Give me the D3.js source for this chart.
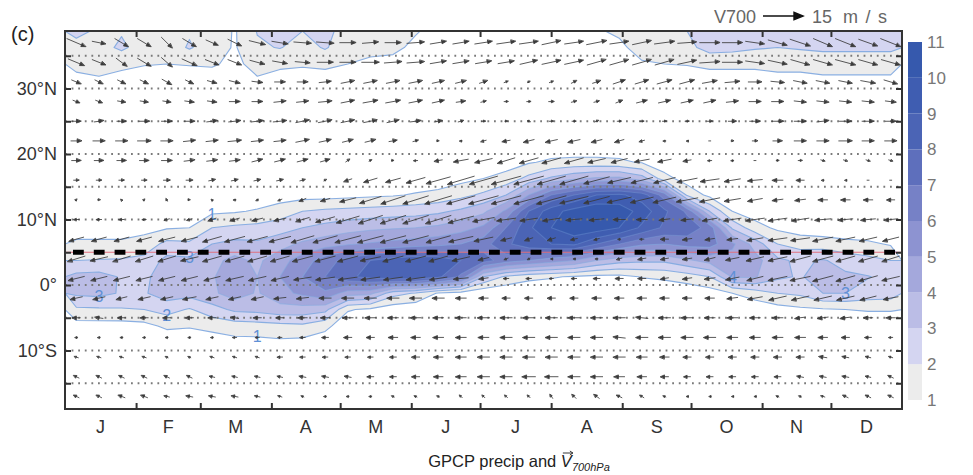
<!DOCTYPE html>
<html>
<head>
<meta charset="utf-8">
<script src="https://cdn.jsdelivr.net/npm/d3@7"></script>
<style>
  html, body { margin: 0; padding: 0; background: #fff; }
  svg { display: block; font-family: "Liberation Sans", Arial, Helvetica, sans-serif; }
</style>
</head>
<body>
<svg id="chart" width="973" height="475"></svg>
<script>
// ---- calendar ----
const monthLabels = ["J", "F", "M", "A", "M", "J", "J", "A", "S", "O", "N", "D"];
const monthStarts = [0, 31, 59, 90, 120, 151, 181, 212, 243, 273, 304, 334, 365];

// ---- precipitation (mm/day), one latitude profile per ~10-day period ----
const precipLats = [38.75, 36.25, 33.75, 31.25, 28.75, 26.25, 23.75, 21.25, 18.75, 16.25, 13.75, 11.25,
                    8.75, 6.25, 3.75, 1.25, -1.25, -3.75, -6.25, -8.75, -11.25, -13.75, -16.25, -18.75];
const precipByPeriod = [
  [2.15,1.8,1.2,0.8,0.3, 0,0,0,0,0,0, 0.2,0.5,1.2,2.0,3.3,3.2,1.8,0.6,0.2, 0,0,0,0],
  [1.9,1.6,1.3,0.9,0.3, 0,0,0,0,0,0, 0.2,0.5,1.2,2.05,3.4,3.3,1.85,0.6,0.2, 0,0,0,0],
  [1.9,2.2,1.2,0.7,0.2, 0,0,0,0,0,0, 0.2,0.5,1.2,2.1,2.9,2.9,1.9,0.6,0.2, 0,0,0,0],
  [1.8,1.5,1.05,0.6,0.2, 0,0,0,0,0,0, 0.3,0.7,1.4,2.3,2.8,2.9,2.0,0.7,0.2, 0,0,0,0],
  [1.8,1.5,1.0,0.6,0.2, 0,0,0,0,0,0.1, 0.4,0.9,2.3,3.3,3.5,3.5,2.4,1.2,0.3, 0,0,0,0],
  [1.9,2.1,1.05,0.6,0.2, 0,0,0,0,0,0.2, 0.5,1.0,2.2,3.2,3.6,3.4,1.9,1.1,0.3, 0,0,0,0],
  [1.7,1.5,1.1,0.6,0.2, 0,0,0,0,0,0.3, 0.8,2.0,3.0,3.7,3.9,3.8,2.6,1.3,0.5, 0.1,0,0,0],
  [0.9,0.9,0.8,0.4,0.1, 0,0,0,0,0,0.3, 0.9,2.2,3.3,4.3,4.6,4.5,3.2,1.5,0.7, 0.1,0,0,0],
  [2.05,1.85,1.3,0.9,0.3, 0,0,0,0,0.1,0.4, 1.1,2.3,3.2,3.8,4.0,3.9,3.3,1.6,0.7, 0.1,0,0,0],
  [2.2,2.05,1.2,0.6,0.2, 0,0,0,0,0.2,0.6, 1.4,2.6,3.6,4.6,5.0,4.7,3.6,1.7,0.8, 0.1,0,0,0],
  [2.0,1.6,1.1,0.6,0.2, 0,0,0,0,0.1,0.6, 2.0,3.0,4.2,5.5,6.0,5.2,3.6,1.8,0.7, 0.1,0,0,0],
  [2.2,2.1,1.2,0.6,0.2, 0,0,0,0,0.1,0.6, 2.2,3.3,4.6,6.5,7.0,5.8,3.3,1.3,0.4, 0,0,0,0],
  [1.7,1.4,1.0,0.5,0.1, 0,0,0,0,0.2,0.7, 2.3,3.6,4.9,7.4,7.8,4.5,1.1,0.3,0.1, 0,0,0,0],
  [1.5,1.2,0.85,0.4,0.1, 0,0,0,0,0.2,0.8, 2.4,3.8,5.1,8.0,8.3,4.3,0.8,0.2,0, 0,0,0,0],
  [1.4,1.15,0.8,0.4,0.1, 0,0,0,0,0.2,0.9, 2.5,3.9,5.3,8.5,8.7,2.4,0.4,0.1,0, 0,0,0,0],
  [1.05,0.85,0.5,0.2,0, 0,0,0,0,0.3,1.1, 2.6,4.0,5.5,8.8,8.8,1.9,0.3,0,0, 0,0,0,0],
  [0.8,0.5,0.3,0.1,0, 0,0,0,0,0.4,1.3, 2.8,4.2,5.7,8.6,8.2,0.9,0.2,0,0, 0,0,0,0],
  [0.7,0.4,0.2,0.1,0, 0,0,0,0.1,0.7,1.7, 3.2,4.6,6.0,8.0,6.8,0.6,0.1,0,0, 0,0,0,0],
  [0.6,0.4,0.2,0.1,0, 0,0,0,0.2,1.0,2.2, 3.8,5.2,6.6,7.4,3.0,0.2,0,0,0, 0,0,0,0],
  [0.6,0.4,0.2,0.1,0, 0,0,0.1,0.5,1.4,3.0, 5.2,7.0,7.8,6.5,1.8,0.2,0,0,0, 0,0,0,0],
  [0.7,0.5,0.2,0.1,0, 0,0,0.2,0.9,2.3,5.0, 8.0,8.8,8.6,6.0,1.3,0.1,0,0,0, 0,0,0,0],
  [0.7,0.5,0.3,0.1,0, 0,0,0.3,1.2,3.2,7.0, 9.6,10.0,9.0,5.5,1.1,0.1,0,0,0, 0,0,0,0],
  [0.8,0.5,0.3,0.1,0, 0,0,0.3,1.3,3.8,8.0, 10.4,10.8,9.2,5.0,0.9,0.1,0,0,0, 0,0,0,0],
  [0.9,0.6,0.3,0.1,0, 0,0,0.3,1.3,4.2,9.0, 10.8,10.6,8.0,4.0,0.7,0.1,0,0,0, 0,0,0,0],
  [1.15,0.8,0.4,0.1,0, 0,0,0.3,1.2,4.3,9.2, 10.6,10.0,7.0,3.4,0.7,0.1,0,0,0, 0,0,0,0],
  [1.6,1.35,0.9,0.4,0.1, 0,0,0.2,0.9,3.5,8.5, 9.6,8.8,6.2,3.2,1.05,0.1,0,0,0, 0,0,0,0],
  [1.8,1.6,1.0,0.5,0.1, 0,0,0,0.3,1.4,6.5, 8.2,7.8,6.0,3.2,1.2,0.2,0,0,0, 0,0,0,0],
  [2.0,1.7,1.05,0.5,0.1, 0,0,0,0.1,0.5,1.8, 6.8,7.6,6.4,3.8,1.5,0.3,0,0,0, 0,0,0,0],
  [2.5,2.4,1.2,0.6,0.2, 0,0,0,0,0.2,0.7, 3.0,6.6,6.4,4.4,2.0,0.5,0.1,0,0, 0,0,0,0],
  [2.5,2.3,1.2,0.6,0.2, 0,0,0,0,0.1,0.3, 1.0,2.8,5.2,4.6,4.1,1.0,0.2,0,0, 0,0,0,0],
  [2.3,2.1,1.2,0.6,0.2, 0,0,0,0,0,0.1, 0.5,1.4,3.6,4.4,4.1,1.5,0.3,0,0, 0,0,0,0],
  [2.3,2.0,1.3,0.7,0.2, 0,0,0,0,0,0.1, 0.3,0.8,2.0,3.2,3.2,2.0,0.6,0.1,0, 0,0,0,0],
  [2.3,2.1,1.3,0.7,0.2, 0,0,0,0,0,0, 0.2,0.5,1.6,2.8,2.9,2.2,0.8,0.1,0, 0,0,0,0],
  [2.4,2.2,1.4,0.8,0.2, 0,0,0,0,0,0, 0.1,0.4,1.5,3.1,3.5,3.0,0.9,0.2,0, 0,0,0,0],
  [2.4,2.2,1.4,0.8,0.2, 0,0,0,0,0,0, 0.1,0.3,1.3,2.6,3.2,3.0,1.0,0.2,0, 0,0,0,0],
  [2.4,2.2,1.4,0.8,0.2, 0,0,0,0,0,0, 0.1,0.2,1.2,2.3,3.05,2.6,1.1,0.2,0, 0,0,0,0],
  [2.4,2.2,1.4,0.8,0.2, 0,0,0,0,0,0, 0,0.2,0.9,2.0,2.7,2.5,1.1,0.2,0, 0,0,0,0]
];

// ---- 700 hPa wind (m/s), one row per latitude, one value per ~10-day period ----
const windLats = [37, 34, 31, 28, 25, 22, 19, 16, 13, 10, 7, 4, 1, -2, -5, -8, -11, -14, -17];
const windU = [
  [7,5,5,5,4,5,4.5,5,6,6,6.5,6.5,6,6,6,6.5,6,6,6.5,7,7,7,7,7.5,7,7,7.5,7,7.5,7.5,7,7,7.5,7,7.5,7,7.5],
  [6,5,4,5,4,5.5,5,5,5.5,5.5,5.5,6,6,6.5,6.5,6.5,6,6,6,6,6.5,7,7,7,7,7,7,7,7.5,7.5,7,7,7,7,7.5,7,7],
  [3.5,3,3,3,3.5,3,3.5,4,4,4,4,4.5,5,5,5,5,4.5,4,3,1.5,1,1.5,2,3,4.5,5,5.5,5.5,5.5,5.5,5,5,5,5,5,5.5,5],
  [2.5,2.5,3,3,3,3.5,3.5,4,4,4.5,4.5,5,5,5.5,5.5,5,4.5,3.5,2,1.5,1.5,2,2,2,2.5,4,4.5,4.5,4.5,4.5,4.5,4.5,4.5,4.5,4.5,4.5,4],
  [3.5,3.5,3.5,4,4,4,4,4.5,4.5,5,5,5,5,5,4.5,4,3,2,1.5,1,1,1.5,1.5,1.5,1.5,1.5,1.5,1.5,2,3,4,4.5,4.5,4.5,4.5,4.5,4],
  [4,4.5,4.5,5,4.5,4.5,4.5,5,4.5,4.5,5,4.5,4,4,3,2,0.5,-1,-2,-3,-4,-4.5,-4.5,-4,-3.5,-2,-1,-0.5,0,1,2,3.5,4.5,4.5,5,4.5,4.5],
  [3.5,3.5,3.5,3.5,4,4,4,4,4,4,4,3.5,1.5,1,0.5,-1.5,-3,-5.5,-6.5,-6.5,-7,-7,-7,-6.5,-6,-5.5,-5,-3,-1.5,-1,0,1,1.5,1.5,1.5,1.5,1.5],
  [2,2,2,2,2.5,2.5,2.5,2.5,2.5,2.5,2,1,-3,-5,-5.5,-7,-9,-10,-10.5,-11,-11,-10.5,-10.5,-9.5,-8.5,-8,-8,-7.5,-7,-6,-5.5,-4,-3,-1,-0.5,0,0],
  [0.5,1,-0.5,0.5,-0.5,0.5,-0.5,-1,-1,-1.5,-2.5,-3.5,-6,-8,-9,-9.5,-10,-10.5,-11,-11,-11,-11,-10.5,-9.5,-9,-8.5,-8.5,-8,-7.5,-6,-5.5,-4,-4,-3.5,-3.5,-3.5,-3],
  [-2,-2,-2,-1.5,-2,-2,-3,-3.5,-4,-4.5,-5,-7,-8.5,-9,-9.5,-9.5,-9.5,-9.5,-8,-7,-6.5,-6.5,-6,-5.5,-4.5,-4,-4,-4.5,-5.5,-6.5,-7,-7,-6.5,-6,-5.5,-5.5,-5],
  [-5.5,-5.5,-5.5,-5.5,-6,-6,-7,-7.5,-7.5,-8,-8.5,-9,-9.5,-9.5,-9.5,-9.5,-9,-9,-7,-4,-3,-3,-2.5,-2,-1,-1.5,-3,-3.5,-3.5,-4,-6,-7,-7,-7.5,-7,-6.5,-6],
  [-6.5,-6.5,-6.5,-6.5,-6.5,-6.5,-7,-7,-7,-7,-7.5,-7.5,-7.5,-7.5,-7.5,-7.5,-7,-6.5,-4,-1.5,-1,-0.5,-0.5,-1,-2,-3,-3,-3.5,-4,-5,-6.5,-7,-7.5,-7.5,-7,-7,-6.5],
  [-6,-6,-6,-6,-6,-6,-6,-6.5,-6.5,-6.5,-6.5,-7,-7,-7,-7,-7,-6.5,-5.5,-3.5,-2,-2,-1.5,-2,-2.5,-3,-3,-3,-3.5,-4,-5,-6,-7,-7.5,-7.5,-7,-7,-6.5],
  [-4.5,-4.5,-4,-4.5,-4.5,-5,-4.5,-4.5,-4.5,-4.5,-4.5,-4.5,-4.5,-4.5,-4.5,-4.5,-4.5,-4,-3.5,-3,-3,-3,-3,-3.5,-3.5,-3.5,-3.5,-3.5,-3.5,-4,-5.5,-6.5,-6.5,-6.5,-6.5,-6,-5.5],
  [-3,-3,-3,-3,-3,-3,-3,-3,-3,-3,-3.5,-3.5,-4,-4,-4,-4,-4,-4,-4.5,-4.5,-4.5,-4.5,-4.5,-4.5,-4.5,-4.5,-4.5,-4.5,-4,-4,-4,-4,-4,-4,-4,-3.5,-3.5],
  [-1,-1,-1,-1,-1,-1,-1,-1.5,-1.5,-1.5,-2,-2.5,-3,-3,-3.5,-3.5,-4,-4,-4,-4.5,-4.5,-4.5,-4.5,-4.5,-4.5,-4.5,-4.5,-4.5,-4.5,-4,-4,-4,-4,-3.5,-3,-2.5,-1.5],
  [-1.5,-1.5,-1.5,-1.5,-1,-1,-1.5,-1.5,-1.5,-2,-2,-2,-2,-2,-2.5,-3,-3.5,-4,-4.5,-4.5,-4.5,-4.5,-4.5,-4.5,-4.5,-4,-3.5,-3,-3,-3,-3,-3,-3,-3,-2.5,-2,-1.5],
  [-2,-2,-2,-2,-2,-2,-2,-2,-2,-2,-2.5,-2.5,-2.5,-2.5,-2.5,-3,-3.5,-4,-4.5,-4.5,-5,-5,-4.5,-4.5,-4,-3.5,-3,-2.5,-2.5,-2.5,-2.5,-2.5,-2.5,-2.5,-2.5,-2,-2],
  [-2,-2,-2.5,-2.5,-2,-2.5,-2.5,-2.5,-2,-1.5,-1,-1,-1,-1,-1,-1,-1,-1,-1,-1,-1,-1,-1.5,-2,-2,-1.5,-1,-0.5,-0.5,-0.5,-0.5,-1,-1,-1.5,-2,-2,-2]
];
const windV = [
  [-3,-1,-3,-3,-4,-3,-2,-2.5,-1.5,-1,-0.5,-0.5,0,0.5,0,0.5,1,1,1,1,1,1.5,1,1.5,1,1.5,1,0.5,0,0,-1,-2,-2.5,-3,-3,-2.5,-3],
  [-2.5,-2,-3,-3,-3.5,-2.5,-2,-2,-1.5,-1,-0.5,0,0,0,0.5,0.5,1,1,1,1,1.5,1.5,1.5,2,2,2,2,1.5,0.5,0,-1,-1.5,-2,-2,-2,-2,-2],
  [-1.5,-1.5,-1.5,-1.5,-2,-1.5,-1,-1,-0.5,0,0,0.5,1,1,1,1,1,1,1,0.5,0.5,0.5,1,1,1.5,1.5,1.5,1.5,1,0.5,0,-0.5,-1,-1,-1,-1,-1.5],
  [-1,-1,-0.5,-0.5,-0.5,-0.5,-0.5,0,0,0.5,0.5,0.5,1,1,1,1,1,0.5,0.5,0,0,0,0.5,0.5,1,1,1,1,1,0.5,0,0,-0.5,-0.5,-0.5,-0.5,-0.5],
  [0,0.5,0,0,0,0,0.5,0.5,0.5,0.5,1,1,1,1,1,0.5,0.5,0.5,0,0,-0.5,0,0,0.5,0,0,0,0,0,0,0,0,0,0.5,0,0,0],
  [0,0,0,0,0,0.5,0.5,0.5,0.5,0.5,1,1,1,1,0.5,0.5,0,0,-0.5,-0.5,-1,-1,-1,-1,-1,-0.5,0,0,0,0,0,0,0,0,0,0,0],
  [0,0,0,0,0,0.5,0.5,0.5,1,1,1,1,1,0.5,0,0,-0.5,-1,-1.5,-2,-2,-2,-2,-1.5,-1.5,-1,-1,-0.5,0,0,0,0,0,-0.5,-0.5,-0.5,-0.5],
  [0,0,0,0,0,0,0.5,0.5,0.5,0.5,0.5,0.5,-1,-1.5,-1.5,-2,-2.5,-3,-3,-3,-3,-3,-3,-2.5,-2,-2,-2,-1.5,-1,-1,-0.5,0,0,0,0,0,0],
  [0.5,0,0.5,0.5,1,0,0.5,0,-0.5,-0.5,-1,-1,-1.5,-2.5,-3,-3,-3,-3,-3,-3,-3,-3,-2.5,-2.5,-2,-2,-2,-1.5,-1.5,-1,-1,-0.5,-0.5,0,0,0,0],
  [0,0,0,0,-0.5,-0.5,-1,-1,-1,-1,-1.5,-2,-2.5,-3,-3,-3,-3,-2.5,-1.5,-1,-1,-1,-0.5,-0.5,0,0,-0.5,-0.5,-1,-1,-1,-1,-1,-0.5,-0.5,-0.5,-0.5],
  [-1.5,-1.5,-1.5,-1.5,-1.5,-1.5,-2,-2,-2,-2,-2.5,-2.5,-2.5,-2.5,-2.5,-2.5,-2.5,-2,-1.5,-1,-1,-1,-0.5,-0.5,0,0,0,-0.5,-0.5,-0.5,-1,-1,-1,-1.5,-1.5,-1.5,-1.5],
  [-2,-1.5,-2,-2,-2,-1.5,-2,-2,-2,-2,-2,-2,-2,-1.5,-2,-2,-2,-1.5,-1,-0.5,-0.5,0,0,0,-0.5,-0.5,-0.5,-0.5,-1,-1,-1.5,-1.5,-2,-2,-2,-2,-2],
  [-1.5,-1.5,-1.5,-1.5,-1.5,-1.5,-1.5,-1.5,-1.5,-1.5,-1,-1,-1,-1,-1,-1,-1,-0.5,-0.5,0,0,0,0,0,0,0,-0.5,-0.5,-0.5,-1,-1.5,-1.5,-1.5,-2,-2,-2,-1.5],
  [-1,-1,-1,-1,-1,-1,-1,-1,-1,-0.5,-0.5,0,0,0,0,0,0,0,0,0,0,0,0,0,0,0,0,0,0,-0.5,-1,-1.5,-1.5,-1.5,-1.5,-1.5,-1],
  [0,0.5,0,0,0,0,0,0.5,0,0,0,0,0,0,0,0,0,0,0,0,0,0,0,0,0,0.5,0,0,0,0,0,0,-0.5,-0.5,-0.5,0,0],
  [0,0,0,0,0,0,0,0,0,0,0,0,0,0,0,0,0,0,0,0,0,0,0,0,0.5,0,0,0,0,0,0,0,0,0,0,0,0],
  [0.5,0.5,0.5,0.5,0.5,0.5,0.5,0.5,0.5,0,0,0,0,0,0,0,0,0,0,0,0,0,0,0,0,0,0,0,0,0,0,0,0,0.5,0.5,0.5,0.5],
  [1,1,1,1,1,1,0.5,0.5,0.5,0.5,0.5,0.5,0.5,0,0,0,0,0,0,0,0,0,0,0,0,0,0,0,0,0,0,0,0.5,0.5,0.5,0.5,1],
  [1,1,1,1,0.5,0.5,0.5,0.5,0.5,0.5,0.5,0,0,0,0.5,0.5,0.5,1,1,1,1,1.5,1.5,1.5,1,1,0.5,0,0,0,0,0.5,0.5,0.5,1,1,1]
];
const referenceSpeed = 15;

// ---- contour levels and colour ramp ----
const levels = [1, 2, 3, 4, 5, 6, 7, 8, 9, 10, 11];
const levelColors = ["#ececec", "#d4d5f1", "#bbbde6", "#a4a8dc", "#8d93d1", "#7681c6", "#5e6fbc",
                     "#4b64b5", "#3f5db1", "#3659ad", "#3056aa"];

// contour values written on the lines: level, period index, side of the rain band
const contourLabels = [
  { level: 3, period: 1, side: "south" },
  { level: 2, period: 4, side: "south" },
  { level: 3, period: 5, side: "north" },
  { level: 1, period: 8, side: "south" },
  { level: 1, period: 6, side: "north" },
  { level: 4, period: 29, side: "south" },
  { level: 3, period: 32, side: "north" },
  { level: 3, period: 34, side: "south" }
];

// ---- latitude axis ----
const latTicks = [35, 30, 25, 20, 15, 10, 5, 0, -5, -10, -15];
const latLabelled = [30, 20, 10, 0, -10];
const itczLat = 5;

const svg = d3.select("#chart");
const plot = { left: 65, right: 902, top: 31, bottom: 409 };

const x = d3.scaleLinear().domain([0, 365]).range([plot.left, plot.right]);
const y = d3.scaleLinear().domain([-18.93, 38.78]).range([plot.bottom, plot.top]);

svg.append("defs").append("clipPath").attr("id", "plotClip")
  .append("rect")
  .attr("x", plot.left).attr("y", plot.top)
  .attr("width", plot.right - plot.left).attr("height", plot.bottom - plot.top);

const body = svg.append("g").attr("clip-path", "url(#plotClip)");

// ---- filled precipitation contours ----
const nx = precipByPeriod.length;
const ny = precipLats.length;
const daysPerCell = 365 / nx;
const latStep = precipLats[0] - precipLats[1];
const latEdge = precipLats[0] + latStep / 2;
const grid = new Array(nx * ny);
for (let j = 0; j < ny; j++) {
  for (let i = 0; i < nx; i++) grid[j * nx + i] = precipByPeriod[i][j];
}
const bands = d3.contours().size([nx, ny]).thresholds(levels)(grid);
const toScreen = d3.geoTransform({
  point(px, py) { this.stream.point(x(px * daysPerCell), y(latEdge - py * latStep)); }
});
const contourPath = d3.geoPath(toScreen);

body.append("g").selectAll("path")
  .data(bands)
  .join("path")
  .attr("d", contourPath)
  .attr("fill", (d, i) => levelColors[i])
  .attr("stroke", "none");

body.append("g").selectAll("path")
  .data(bands)
  .join("path")
  .attr("d", contourPath)
  .attr("fill", "none")
  .attr("stroke", "#84abe0")
  .attr("stroke-opacity", d => d.value <= 3 ? 0.95 : (d.value <= 6 ? 0.55 : 0.3))
  .attr("stroke-width", 1.1)
  .attr("stroke-linejoin", "round");

// contour value labels placed where a period's profile crosses the level
function crossingLat(period, level, side) {
  const prof = precipByPeriod[period];
  let iMax = 7;
  for (let j = 7; j < 20; j++) if (prof[j] > prof[iMax]) iMax = j;
  const step = side === "north" ? -1 : 1;
  for (let j = iMax; j + step >= 0 && j + step < prof.length; j += step) {
    const a = prof[j], b = prof[j + step];
    if (a >= level && b < level) {
      const t = (a - level) / (a - b);
      return precipLats[j] + t * (precipLats[j + step] - precipLats[j]);
    }
  }
  return null;
}
body.append("g").selectAll("text")
  .data(contourLabels.map(d => ({ ...d, lat: crossingLat(d.period, d.level, d.side) }))
    .filter(d => d.lat !== null))
  .join("text")
  .attr("x", d => x((d.period + 0.5) * daysPerCell))
  .attr("y", d => y(d.lat) + 5.5)
  .attr("text-anchor", "middle")
  .attr("font-size", 16)
  .attr("fill", "#5f90d6")
  .text(d => d.level);

// ---- dotted latitude lines ----
body.append("g").selectAll("line")
  .data(latTicks.filter(d => d !== itczLat))
  .join("line")
  .attr("x1", plot.left).attr("x2", plot.right)
  .attr("y1", d => y(d)).attr("y2", d => y(d))
  .attr("stroke", "#7a7a7a")
  .attr("stroke-width", 1.8)
  .attr("stroke-dasharray", "1.8 4.8");

// ---- wind vectors ----
const pxPerMs = 40 / referenceSpeed;
function arrowD(cx, cy, u, v, headLen, headHalf) {
  const dx = u * pxPerMs, dy = -v * pxPerMs;
  const len = Math.hypot(dx, dy);
  if (len < 0.5) {
    return `M${cx - 1},${cy}L${cx + 1},${cy}`;
  }
  const ux = dx / len, uy = dy / len;
  const x0 = cx - dx / 2, y0 = cy - dy / 2;
  const x1 = cx + dx / 2, y1 = cy + dy / 2;
  const hl = Math.max(2, Math.min(headLen, len * 0.5));
  const hw = Math.min(headHalf, hl * 0.45);
  const bx = x1 - ux * hl, by = y1 - uy * hl;
  return `M${x0},${y0}L${bx},${by}` +
         `M${x1},${y1}L${bx - uy * hw},${by + ux * hw}L${bx + uy * hw},${by - ux * hw}Z`;
}

const vectors = [];
windLats.forEach((lat, r) => {
  windU[r].forEach((u, c) => {
    const v = windV[r][c];
    if (u === undefined || v === undefined) return;
    vectors.push({ day: (c + 0.5) * daysPerCell, lat, u, v });
  });
});

body.append("g").selectAll("path")
  .data(vectors)
  .join("path")
  .attr("d", d => arrowD(x(d.day), y(d.lat), d.u, d.v, 4.5, 1.8))
  .attr("fill", "#3a3a3a")
  .attr("stroke", "#3a3a3a")
  .attr("stroke-width", 0.85)
  .attr("stroke-linecap", "round");

// ---- ITCZ reference latitude ----
body.append("line")
  .attr("x1", plot.left).attr("x2", plot.right)
  .attr("y1", y(itczLat)).attr("y2", y(itczLat))
  .attr("stroke", "#e0707e").attr("stroke-width", 1);
body.append("line")
  .attr("x1", plot.left).attr("x2", plot.right)
  .attr("y1", y(itczLat)).attr("y2", y(itczLat))
  .attr("stroke", "#000").attr("stroke-width", 5)
  .attr("stroke-dasharray", "10.8 10")
  .attr("stroke-dashoffset", 12.8);

// ---- axes ----
const latFmt = d => d === 0 ? "0°" : (d > 0 ? `${d}°N` : `${-d}°S`);
const axisStyle = g => {
  g.select(".domain").remove();
  g.selectAll(".tick line").attr("stroke", "#333").attr("stroke-width", 2);
  g.selectAll(".tick text").attr("fill", "#333").attr("font-size", 18)
    .attr("font-family", "\"Liberation Sans\", Arial, sans-serif");
};

svg.append("g")
  .attr("transform", `translate(${plot.left},0)`)
  .call(d3.axisLeft(y).tickValues(latTicks).tickSize(-6).tickPadding(8)
    .tickFormat(d => latLabelled.includes(d) ? latFmt(d) : ""))
  .call(axisStyle);

svg.append("g")
  .attr("transform", `translate(${plot.right},0)`)
  .call(d3.axisRight(y).tickValues(latTicks).tickSize(-6).tickFormat(""))
  .call(axisStyle);

svg.append("g")
  .attr("transform", `translate(0,${plot.bottom})`)
  .call(d3.axisBottom(x).tickValues(monthStarts.slice(1, 12)).tickSize(-6).tickFormat(""))
  .call(axisStyle);

svg.append("g")
  .attr("transform", `translate(0,${plot.top})`)
  .call(d3.axisTop(x).tickValues(monthStarts.slice(1, 12)).tickSize(-6).tickFormat(""))
  .call(axisStyle);

svg.append("g").selectAll("text")
  .data(monthLabels)
  .join("text")
  .attr("x", (d, i) => x((monthStarts[i] + monthStarts[i + 1]) / 2))
  .attr("y", 433)
  .attr("text-anchor", "middle")
  .attr("font-size", 18)
  .attr("fill", "#333")
  .text(d => d);

// frame
svg.append("rect")
  .attr("x", plot.left).attr("y", plot.top)
  .attr("width", plot.right - plot.left).attr("height", plot.bottom - plot.top)
  .attr("fill", "none").attr("stroke", "#333").attr("stroke-width", 2);

// ---- colour bar ----
const cbar = d3.scaleLinear().domain([1, 11]).range([400, 42]);
svg.append("g").selectAll("rect")
  .data(levels.slice(0, -1))
  .join("rect")
  .attr("x", 908).attr("width", 14)
  .attr("y", d => cbar(d + 1))
  .attr("height", d => cbar(d) - cbar(d + 1))
  .attr("fill", (d, i) => levelColors[i]);

svg.append("g")
  .attr("transform", "translate(922,0)")
  .call(d3.axisRight(cbar).tickValues(levels).tickSize(0).tickPadding(5).tickFormat(d3.format("d")))
  .call(g => {
    g.select(".domain").remove();
    g.selectAll("text").attr("fill", "#777").attr("font-size", 17)
      .attr("font-family", "\"Liberation Sans\", Arial, sans-serif");
  });

// ---- panel letter ----
svg.append("text")
  .attr("x", 11).attr("y", 41)
  .attr("font-size", 20).attr("fill", "#222")
  .text("(c)");

// ---- reference vector key ----
const keyY = 16, keyX0 = 763;
svg.append("text")
  .attr("x", 756).attr("y", keyY + 6.5)
  .attr("text-anchor", "end")
  .attr("font-size", 18).attr("fill", "#666")
  .text("V700");
svg.append("path")
  .attr("d", arrowD(keyX0 + referenceSpeed * pxPerMs / 2, keyY, referenceSpeed, 0, 9, 3.6))
  .attr("fill", "#111").attr("stroke", "#111").attr("stroke-width", 1.4);
svg.append("text")
  .attr("x", 812).attr("y", keyY + 6.5)
  .attr("font-size", 18).attr("fill", "#666")
  .text(`${referenceSpeed}`);
svg.append("text")
  .attr("x", 843).attr("y", keyY + 6.5)
  .attr("font-size", 18).attr("fill", "#666")
  .attr("textLength", 44).attr("lengthAdjust", "spacing")
  .text("m/s");

// ---- caption ----
const cap = svg.append("text")
  .attr("x", 519).attr("y", 467)
  .attr("text-anchor", "middle")
  .attr("font-size", 16.5).attr("fill", "#222");
cap.append("tspan").text("GPCP precip and ");
cap.append("tspan").attr("font-style", "italic").text("V");
cap.append("tspan").attr("font-style", "italic").attr("font-size", 11).attr("dy", 3.5).text("700hPa");

// arrow over the V of the caption
const capNode = cap.node();
const vIndex = "GPCP precip and ".length;
const vBox = capNode.getExtentOfChar(vIndex);
const ax0 = vBox.x + 2, ax1 = vBox.x + vBox.width + 1, ay = vBox.y + 1;
svg.append("path")
  .attr("d", `M${ax0},${ay}L${ax1},${ay}M${ax1 - 3},${ay - 2}L${ax1},${ay}L${ax1 - 3},${ay + 2}`)
  .attr("fill", "none").attr("stroke", "#222").attr("stroke-width", 0.9);
</script>
</body>
</html>
